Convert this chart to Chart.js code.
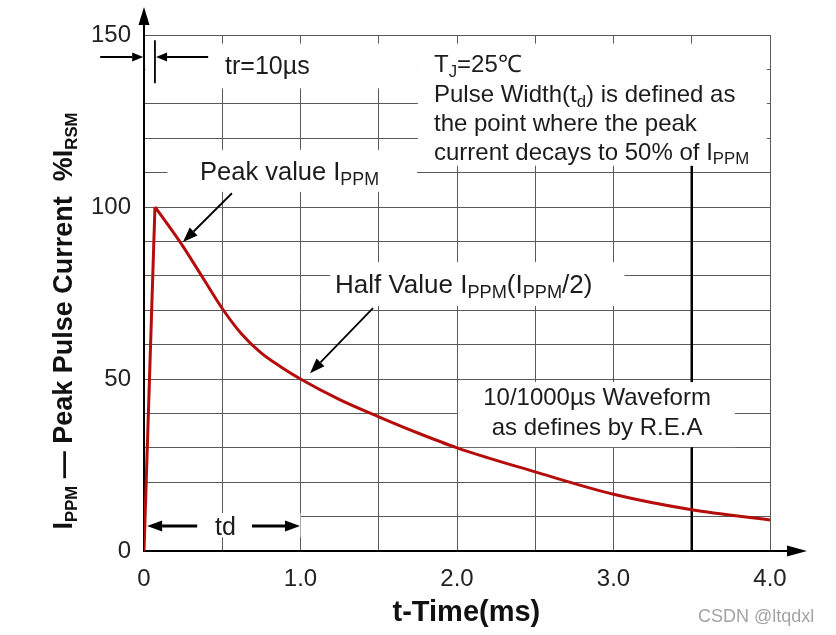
<!DOCTYPE html>
<html>
<head>
<meta charset="utf-8">
<script src="https://cdn.jsdelivr.net/npm/chart.js@4.4.0/dist/chart.umd.min.js"></script>
<style>
  html, body { margin: 0; padding: 0; background: #fff; }
  #wrap { width: 836px; height: 635px; position: relative; }
</style>
</head>
<body>
<div id="wrap"><canvas id="pulseChart"></canvas></div>
<script>
// 10/1000us pulse waveform: time in ms, current in % of IPPM
var riseTime = [0, 0.07];
var riseCurrent = [0, 100];
var decayTime = [0.07, 0.15, 0.25, 0.375, 0.5, 0.625, 0.75, 0.875, 1.0, 1.25, 1.5, 1.75, 2.0, 2.5, 3.0, 3.5, 4.0];
var decayCurrent = [100, 95, 88.5, 79.5, 70.5, 63, 57.5, 53.5, 50, 44, 39, 34.3, 30, 23, 16.5, 12, 9];

var xTickLabels = ['0', '1.0', '2.0', '3.0', '4.0'];
var yTickLabels = ['0', '50', '100', '150'];

(function() {
    'use strict';

    var FONT = '"Liberation Sans", Arial, Helvetica, sans-serif';
    var TEXT = '#1c1c1c';
    var CURVE = '#b50c0c';

    function toPoints(xs, ys) {
        return xs.map(function(v, i) { return { x: v, y: ys[i] }; });
    }

    // text with ~subscript~ parts
    function drawRich(ctx, str, x, y, size, weight, align, subScale) {
        var parts = str.split('~');
        var k = subScale || 0.7;
        var w = 0, i, s;
        for (i = 0; i < parts.length; i++) {
            s = i % 2 ? size * k : size;
            ctx.font = weight + ' ' + s + 'px ' + FONT;
            w += ctx.measureText(parts[i]).width;
        }
        var cx = align === 'center' ? x - w / 2 : x;
        ctx.textAlign = 'left';
        ctx.textBaseline = 'alphabetic';
        for (i = 0; i < parts.length; i++) {
            s = i % 2 ? size * k : size;
            ctx.font = weight + ' ' + s + 'px ' + FONT;
            ctx.fillText(parts[i], cx, i % 2 ? y + size * 0.2 : y);
            cx += ctx.measureText(parts[i]).width;
        }
    }

    function arrow(ctx, x1, y1, x2, y2, len, half) {
        var a = Math.atan2(y2 - y1, x2 - x1);
        var bx = x2 - len * Math.cos(a), by = y2 - len * Math.sin(a);
        ctx.beginPath();
        ctx.moveTo(x1, y1);
        ctx.lineTo(bx, by);
        ctx.stroke();
        ctx.beginPath();
        ctx.moveTo(x2, y2);
        ctx.lineTo(bx + half * Math.sin(a), by - half * Math.cos(a));
        ctx.lineTo(bx - half * Math.sin(a), by + half * Math.cos(a));
        ctx.closePath();
        ctx.fill();
    }

    // white patches behind the notes, in data units [x0, x1, y0, y1]
    var boxes = [
        [0.01, 1.75, 134.5, 147.5],
        [1.75, 3.98, 112, 147.5],
        [0.15, 1.745, 104.4, 116.6],
        [1.19, 3.07, 71.2, 84],
        [2.006, 3.776, 30.2, 49.1],
        [0.01, 1.0, 4, 11]
    ];

    var decor = {
        id: 'decor',
        beforeDatasetsDraw: function(chart) {
            var ctx = chart.ctx, xs = chart.scales.x, ys = chart.scales.y;
            ctx.save();
            // marker line at 3.5 ms
            ctx.strokeStyle = '#000';
            ctx.lineWidth = 2.5;
            ctx.beginPath();
            ctx.moveTo(xs.getPixelForValue(3.5), ys.getPixelForValue(0));
            ctx.lineTo(xs.getPixelForValue(3.5), ys.getPixelForValue(112));
            ctx.stroke();
            ctx.fillStyle = '#fff';
            boxes.forEach(function(b) {
                var l = xs.getPixelForValue(b[0]), r = xs.getPixelForValue(b[1]);
                var t = ys.getPixelForValue(b[3]), btm = ys.getPixelForValue(b[2]);
                ctx.fillRect(l, t, r - l, btm - t);
            });
            ctx.restore();
        },
        afterDraw: function(chart) {
            var ctx = chart.ctx, xs = chart.scales.x, ys = chart.scales.y, area = chart.chartArea;
            var X = function(v) { return xs.getPixelForValue(v); };
            var Y = function(v) { return ys.getPixelForValue(v); };
            ctx.save();
            ctx.fillStyle = '#000';
            ctx.strokeStyle = '#000';

            // axis arrows
            ctx.lineWidth = 2;
            arrow(ctx, area.left, area.top, area.left, 7, 18, 5.5);
            arrow(ctx, area.right, area.bottom, 807, area.bottom, 20, 5.5);

            // tr marker
            ctx.lineWidth = 1.8;
            arrow(ctx, X(-0.28), Y(143.6), X(-0.005), Y(143.6), 11, 4.5);
            arrow(ctx, X(0.41), Y(143.6), X(0.077), Y(143.6), 11, 4.5);
            ctx.beginPath();
            ctx.moveTo(X(0.07), Y(148.5));
            ctx.lineTo(X(0.07), Y(136));
            ctx.stroke();

            // note arrows
            arrow(ctx, X(0.562), Y(104), X(0.249), Y(89.8), 15, 5.5);
            arrow(ctx, X(1.463), Y(70.6), X(1.061), Y(51.7), 15, 5.5);

            // td span
            ctx.lineWidth = 3;
            arrow(ctx, X(0.34), Y(7.3), X(0.02), Y(7.3), 15, 5.5);
            arrow(ctx, X(0.69), Y(7.3), X(0.997), Y(7.3), 15, 5.5);

            // notes
            ctx.fillStyle = TEXT;
            drawRich(ctx, 'tr=10\u00b5s', X(0.518), Y(138.7), 25, 'normal', 'left');
            drawRich(ctx, 'T~J~=25\u2103', X(1.853), Y(139.2), 24, 'normal', 'left');
            drawRich(ctx, 'Pulse Width(t~d~) is defined as', X(1.853), Y(130.6), 24, 'normal', 'left');
            drawRich(ctx, 'the point where the peak', X(1.853), Y(122.2), 24, 'normal', 'left');
            drawRich(ctx, 'current decays to 50% of I~PPM', X(1.853), Y(113.8), 24, 'normal', 'left');
            drawRich(ctx, 'Peak value I~PPM', X(0.358), Y(107.8), 25.5, 'normal', 'left');
            drawRich(ctx, 'Half Value I~PPM~(I~PPM~/2)', X(1.22), Y(75), 26, 'normal', 'left');
            drawRich(ctx, '10/1000\u00b5s Waveform', X(2.895), Y(42.4), 24, 'normal', 'center');
            drawRich(ctx, 'as defines by R.E.A', X(2.895), Y(33.7), 24, 'normal', 'center');
            drawRich(ctx, 'td', X(0.52), Y(4.6), 25, 'normal', 'center');

            // axis titles
            ctx.fillStyle = '#111';
            drawRich(ctx, 't-Time(ms)', X(2.06), area.bottom + 70, 29, 'bold', 'center');
            ctx.translate(72, 321);
            ctx.rotate(-Math.PI / 2);
            drawRich(ctx, 'I~PPM~ \u2014 Peak Pulse Current  %I~RSM', 0, 0, 27, 'bold', 'center', 0.62);
            ctx.restore();

            // watermark
            ctx.save();
            ctx.fillStyle = '#a3a3a3';
            ctx.font = '18px ' + FONT;
            ctx.textAlign = 'left';
            ctx.fillText('CSDN @ltqdxl', 698, 622);
            ctx.restore();
        }
    };

    new Chart(document.getElementById('pulseChart').getContext('2d'), {
        type: 'line',
        data: {
            datasets: [
                {
                    label: 'rise',
                    data: toPoints(riseTime, riseCurrent),
                    borderColor: CURVE,
                    borderWidth: 3,
                    pointRadius: 0,
                    tension: 0
                },
                {
                    label: 'decay',
                    data: toPoints(decayTime, decayCurrent),
                    borderColor: CURVE,
                    borderWidth: 3,
                    pointRadius: 0,
                    cubicInterpolationMode: 'monotone'
                }
            ]
        },
        options: {
            responsive: true,
            maintainAspectRatio: false,
            animation: false,
            layout: { padding: { left: 0, top: 35, right: 66, bottom: 0 } },
            plugins: {
                legend: { display: false },
                tooltip: { enabled: false }
            },
            scales: {
                x: {
                    type: 'linear',
                    min: 0,
                    max: 4,
                    afterFit: function(s) { s.height = 84; },
                    grid: { color: '#5a5a5a', lineWidth: 1, drawTicks: false },
                    border: { color: '#000', width: 2 },
                    ticks: {
                        stepSize: 0.5,
                        padding: 14,
                        autoSkip: false,
                        maxRotation: 0,
                        color: '#222',
                        font: { family: FONT, size: 24 },
                        callback: function(v) { return Number.isInteger(v) ? xTickLabels[v] : ''; }
                    }
                },
                y: {
                    min: 0,
                    max: 150,
                    afterFit: function(s) { s.width = 144; },
                    grid: { color: '#5a5a5a', lineWidth: 1, drawTicks: false },
                    border: { color: '#000', width: 2 },
                    ticks: {
                        stepSize: 10,
                        padding: 13,
                        autoSkip: false,
                        color: '#222',
                        font: { family: FONT, size: 24 },
                        callback: function(v) { return v % 50 === 0 ? yTickLabels[v / 50] : ''; }
                    }
                }
            }
        },
        plugins: [decor]
    });
})();
</script>
</body>
</html>
